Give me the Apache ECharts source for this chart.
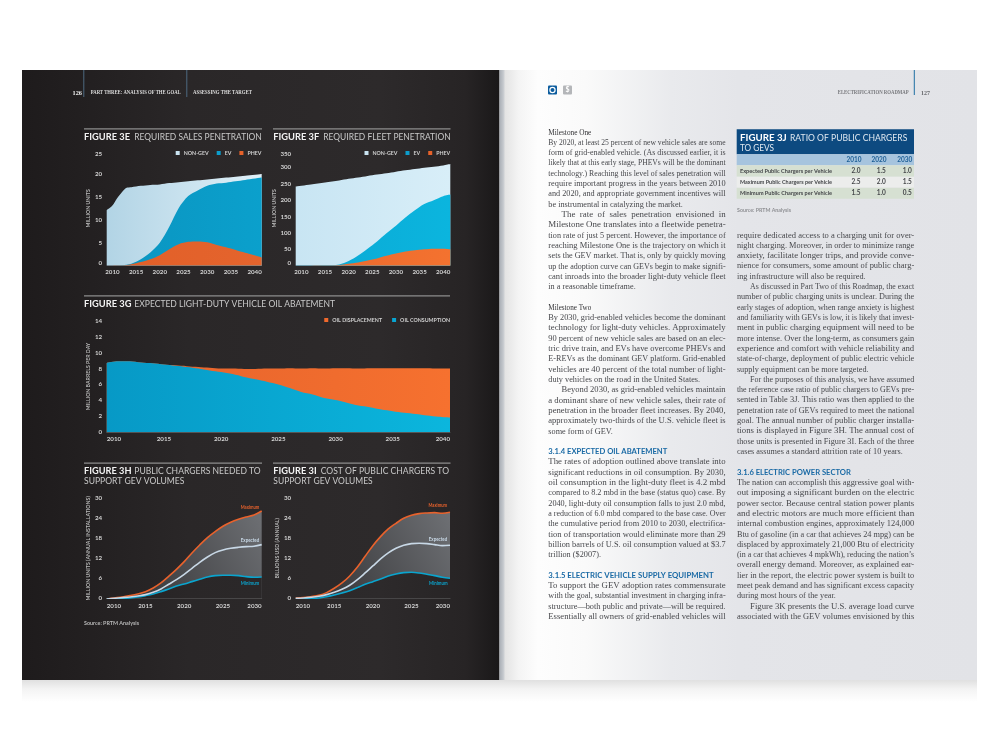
<!DOCTYPE html>
<html><head><meta charset="utf-8">
<style>html,body{margin:0;padding:0;background:#fff}#c{width:1000px;height:750px}</style>
<script src="https://cdn.jsdelivr.net/npm/echarts@6/dist/echarts.min.js"></script>
</head><body><div id="c"></div>
<script>
// ---------- DATA ----------
const yearsE = [2008.8,2010,2011,2012,2013,2014,2016,2018,2020,2022,2024,2026,2028,2030,2032,2034,2036,2038,2041.5];
const phevE = [0,0,.02,.05,.15,.3,.8,1.4,2.3,3.6,4.7,5.2,5.3,5.1,4.5,4.0,3.4,2.8,1.8];
const evE = [0,0,.03,.05,.05,.1,.6,1.5,2.7,4.9,7.9,10,11.1,12.3,13.4,14.1,15,15.9,17.4];
const nonGevE = [12.1,13.1,14.65,15.9,16.8,16.7,16,14.7,12.7,9.5,5.6,3.2,2.2,1.4,1.1,1.1,1,.9,.8];
const yearsF = [2008.8,2012,2015,2018,2020,2022,2024,2026,2028,2030,2032,2034,2036,2038,2040,2041.5];
const phevF = [0,.1,.5,2.5,6,10,16,22,30,37,43,47,50,52,52,50];
const evF = [0,.2,.5,1.5,8,21,36,52,69,85,104,122,138,148,160,167];
const nonGevF = [242,247.7,253,256,251,238,222,204,183,165,144,126,111,102,94,93];
const yearsG = [2010,2011,2012,2013,2014,2015,2016,2017,2018,2019,2020,2021,2022,2023,2024,2025,2026,2027,2028,2029,2030,2031,2032,2033,2034,2035,2036,2037,2038,2039,2040];
const oilConsumption = [8.7,8.9,8.9,8.75,8.65,8.5,8.35,8.2,8.0,7.75,7.55,7.3,6.95,6.65,6.35,6.0,5.55,5.05,4.75,4.3,4.05,3.7,3.35,3.15,2.85,2.65,2.45,2.3,2.1,1.95,1.85];
const oilDisplacement = [0,0,0,0,0,0,.05,.1,.2,.35,.45,.7,1,1.3,1.65,2,2.5,2.95,3.3,3.7,4,4.35,4.65,4.9,5.2,5.4,5.6,5.75,5.95,6.05,6.15];
const yearsH = [2010,2011,2012,2013,2014,2015,2016,2017,2018,2019,2020,2021,2022,2023,2024,2025,2026,2027,2028,2029,2030];
const maxH = [-.2,.1,.4,.8,1.3,2,3.1,4.6,6.6,8.7,11,13.6,16,18.2,20,21.6,22.8,23.7,24.4,25,26.2];
const expH = [-.2,0,.2,.4,.7,1.1,1.8,2.8,4.2,5.6,7.2,9,10.8,12.4,13.7,14.5,15,15.3,15.5,15.6,16.1];
const minH = [-.3,-.2,-.1,.1,.4,.8,1.3,2,2.8,3.7,4.3,5,5.7,6.4,6.8,6.9,6.9,6.8,6.5,6.3,6.4];
const maxI = [.1,.2,.5,.9,1.7,3,4.6,6.7,9.4,12.6,15.8,18.5,20.8,22.5,24,24.9,25.4,25.6,25.7,25.5,25.8];
const expI = [0,.1,.3,.6,1.1,1.8,2.7,3.9,5.6,7.6,9.7,11.8,13.6,15,15.9,16.4,16.5,16.4,16.1,15.8,15.9];
const minI = [-.3,-.2,-.1,.1,.5,1,1.6,2.3,3.2,4.2,5,5.8,6.7,7.3,7.7,7.8,7.6,7.2,6.8,6.3,6];
const tickYears = [2010,2015,2020,2025,2030,2035,2040];
const legendEF = ['NON-GEV','EV','PHEV'];
const legendG = ['OIL DISPLACEMENT','OIL CONSUMPTION'];
const tableYears = ['2010','2020','2030'];
const tableRows = ['Expected Public Chargers per Vehicle','Maximum Public Chargers per Vehicle','Minimum Public Chargers per Vehicle'];
const tableValues = [['2.0','1.5','1.0'],['2.5','2.0','1.5'],['1.5','1.0','0.5']];
const column1 = ['@Milestone One','By 2020, at least 25 percent of new vehicle sales are some','form of grid-enabled vehicle. (As discussed earlier, it is','likely that at this early stage, PHEVs will be the dominant','technology.) Reaching this level of sales penetration will','require important progress in the years between 2010','and 2020, and appropriate government incentives will','=be instrumental in catalyzing the market.','>The rate of sales penetration envisioned in','Milestone One translates into a fleetwide penetra-','tion rate of just 5 percent. However, the importance of','reaching Milestone One is the trajectory on which it','sets the GEV market. That is, only by quickly moving','up the adoption curve can GEVs begin to make signifi-','cant inroads into the broader light-duty vehicle fleet','=in a reasonable timeframe.','','@Milestone Two','By 2030, grid-enabled vehicles become the dominant','technology for light-duty vehicles. Approximately','90 percent of new vehicle sales are based on an elec-','tric drive train, and EVs have overcome PHEVs and','E-REVs as the dominant GEV platform. Grid-enabled','vehicles are 40 percent of the total number of light-','=duty vehicles on the road in the United States.','>Beyond 2030, as grid-enabled vehicles maintain','a dominant share of new vehicle sales, their rate of','penetration in the broader fleet increases. By 2040,','approximately two-thirds of the U.S. vehicle fleet is','=some form of GEV.','','#3.1.4 EXPECTED OIL ABATEMENT','The rates of adoption outlined above translate into','significant reductions in oil consumption. By 2030,','oil consumption in the light-duty fleet is 4.2 mbd','compared to 8.2 mbd in the base (status quo) case. By','2040, light-duty oil consumption falls to just 2.0 mbd,','a reduction of 6.0 mbd compared to the base case. Over','the cumulative period from 2010 to 2030, electrifica-','tion of transportation would eliminate more than 29','billion barrels of U.S. oil consumption valued at $3.7','=trillion ($2007).','','#3.1.5 ELECTRIC VEHICLE SUPPLY EQUIPMENT','To support the GEV adoption rates commensurate','with the goal, substantial investment in charging infra-','structure\u2014both public and private\u2014will be required.','Essentially all owners of grid-enabled vehicles will'];
const column2 = ['require dedicated access to a charging unit for over-','night charging. Moreover, in order to minimize range','anxiety, facilitate longer trips, and provide conve-','nience for consumers, some amount of public charg-','=ing infrastructure will also be required.','>As discussed in Part Two of this Roadmap, the exact','number of public charging units is unclear. During the','early stages of adoption, when range anxiety is highest','and familiarity with GEVs is low, it is likely that invest-','ment in public charging equipment will need to be','more intense. Over the long-term, as consumers gain','experience and comfort with vehicle reliability and','state-of-charge, deployment of public electric vehicle','=supply equipment can be more targeted.','>For the purposes of this analysis, we have assumed','the reference case ratio of public chargers to GEVs pre-','sented in Table 3J. This ratio was then applied to the','penetration rate of GEVs required to meet the national','goal. The annual number of public charger installa-','tions is displayed in Figure 3H. The annual cost of','those units is presented in Figure 3I. Each of the three','=cases assumes a standard attrition rate of 10 years.','','#3.1.6 ELECTRIC POWER SECTOR','The nation can accomplish this aggressive goal with-','out imposing a significant burden on the electric','power sector. Because central station power plants','and electric motors are much more efficient than','internal combustion engines, approximately 124,000','Btu of gasoline (in a car that achieves 24 mpg) can be','displaced by approximately 21,000 Btu of electricity','(in a car that achieves 4 mpkWh), reducing the nation\u2019s','overall energy demand. Moreover, as explained ear-','lier in the report, the electric power system is built to','meet peak demand and has significant excess capacity','=during most hours of the year.','>Figure 3K presents the U.S. average load curve','associated with the GEV volumes envisioned by this'];

// ---------- HELPERS ----------
const SANS='Lato', SERIF='"Liberation Serif"';
const G=echarts.graphic.LinearGradient;
const mctx=document.createElement('canvas').getContext('2d');
const fontOf=(w,s,f)=>`${w} ${s}px ${f}`;
function txt(text,x,y,o){
  o=o||{};
  const font=fontOf(o.weight||'normal',o.size||8,o.family||SANS);
  let sx=o.scale||1;
  if(o.width){mctx.font=font;sx=o.width/mctx.measureText(text).width;}
  return {type:'text',x:x,y:y,scaleX:sx,silent:true,z:o.z||50,
    style:{text:text,font:font,fill:o.color||'#ccc',textAlign:o.align||'left',textVerticalAlign:'middle',verticalAlign:'middle'}};
}
// widen a short justified line with real spaces first, so the letters are not stretched too far
function spaced(text,font,width){
  mctx.font=font;
  const words=text.split(' '), gaps=words.length-1;
  if(gaps<1) return text;
  const extra=width*.98-mctx.measureText(text).width, sp=mctx.measureText(' ').width;
  const k=Math.max(0,Math.floor(extra/(gaps*sp)));
  return k?words.join(' '.repeat(k+1)):text;
}
function rect(x,y,w,h,fill,z,r){
  return {type:'rect',silent:true,z:z==null?-10:z,shape:{x:x,y:y,width:w,height:h,r:r||0},style:{fill:fill}};
}
const pair=(xs,ys)=>xs.map((x,i)=>[x,ys[i]]);
const add=(a,b)=>a.map((v,i)=>v+b[i]);
const hgrad=(a,b)=>new G(0,0,1,0,[{offset:0,color:a},{offset:1,color:b}]);
const pageFill=new G(22,0,499,0,[{offset:0,color:'#1e1b1c'},{offset:.35,color:'#2a2728'},{offset:.75,color:'#2d2a2b'},{offset:.93,color:'#272425'},{offset:1,color:'#1a1819'}],true);

// ---------- GRAPHIC ELEMENTS ----------
const els=[];
// pages
els.push(rect(22,680,955,22,new G(0,0,0,1,[{offset:0,color:'#e0e0e0'},{offset:.4,color:'#f3f3f3'},{offset:1,color:'#ffffff'}]),-12));
els.push(rect(22,70,477.5,610,pageFill));
els.push(rect(499.5,70,477.5,610,new G(499.5,0,977,0,[{offset:0,color:'#a9aeb5'},{offset:.008,color:'#c5c9ce'},{offset:.012,color:'#e4e4e4'},{offset:.04,color:'#f4f4f4'},{offset:.08,color:'#fdfdfd'},{offset:.18,color:'#fafafa'},{offset:.36,color:'#e9eaed'},{offset:.5,color:'#e4e5e9'},{offset:1,color:'#e2e3e7'}],true)));
// running heads
els.push(rect(83.3,70,1,27,'#4d6a80',-5), rect(186.3,70,1,27,'#4d6a80',-5), rect(913.8,70,1,25,'#1f6fa3',-5));
els.push(txt('126',72.5,93,{family:SERIF,weight:'bold',size:6.5,color:'#eee',width:9.5}));
els.push(txt('PART THREE: ANALYSIS OF THE GOAL',90.7,93,{family:SERIF,weight:'bold',size:5.5,color:'#ddd',width:90}));
els.push(txt('ASSESSING THE TARGET',193,93,{family:SERIF,weight:'bold',size:5.5,color:'#ddd',width:59}));
els.push(txt('ELECTRIFICATION ROADMAP',837.7,93,{family:SERIF,weight:'bold',size:5.5,color:'#77787c',width:71}));
els.push(txt('127',921,93,{family:SERIF,weight:'bold',size:6.5,color:'#66676b',width:9}));
// icons
els.push(rect(548,85.5,9,9,'#0b5c9e',-5,1), rect(563,85.5,9,9,'#b4b6b9',-5,1));
els.push({type:'circle',silent:true,z:-4,shape:{cx:552.5,cy:90,r:2.6},style:{fill:'none',stroke:'#fff',lineWidth:1.2}});
els.push(txt('$',567.5,90,{size:7,weight:'bold',color:'#fff',align:'center'}));
// chart rules and titles
[[84,128.7,178],[273,128.7,177.5],[84,295.7,366],[84,463,178],[273,463,177.5]].forEach(r=>els.push(rect(r[0],r[1]-.5,r[2],1.2,'#8d8d8d',-5)));
const bold={weight:'bold',size:9.5,color:'#f2f2f2'}, reg={size:9.5,color:'#c9c9c9'};
function title(bt,bx,bw,rt,rx,rw,y){els.push(txt(bt,bx,y,Object.assign({width:bw},bold)),txt(rt,rx,y,Object.assign({width:rw},reg)));}
title('FIGURE 3E',84,46,'REQUIRED SALES PENETRATION',134.3,127.5,137.3);
title('FIGURE 3F',273.3,46,'REQUIRED FLEET PENETRATION',323.3,127.3,137.3);
title('FIGURE 3G',84,47.5,'EXPECTED LIGHT-DUTY VEHICLE OIL ABATEMENT',134.3,200.7,304.3);
title('FIGURE 3H',84,47.5,'PUBLIC CHARGERS NEEDED TO',134.3,126.4,471);
els.push(txt('SUPPORT GEV VOLUMES',84,480.7,Object.assign({width:100.3},reg)));
title('FIGURE 3I',273.3,43.4,'COST OF PUBLIC CHARGERS TO',320.7,128.3,471);
els.push(txt('SUPPORT GEV VOLUMES',273.3,480.7,Object.assign({width:99.4},reg)));
els.push(txt('Source: PRTM Analysis',84,623.3,{size:6,weight:'bold',color:'#b8b8b8',width:55}));
// chart line labels
[[250,507.7,'Maximum','#e8622c'],[250,540,'Expected','#c8d8e6'],[250,583,'Minimum','#0aa5cf'],[437.7,505.7,'Maximum','#e8622c'],[438,539.7,'Expected','#c8d8e6'],[438.3,583.3,'Minimum','#0aa5cf']]
  .forEach(l=>els.push(txt(l[2],l[0],l[1],{size:5.5,weight:'bold',color:l[3],align:'center',width:18.5})));
// table 3J
els.push(rect(736.7,129.3,177.3,25,'#0d4a80',-5), rect(736.7,154.3,177.3,11,'#a6c4de',-5),
  rect(736.7,165.3,177.3,11.4,'#d6e0d2',-5), rect(736.7,176.7,177.3,11,'#ecedec',-5), rect(736.7,187.7,177.3,11,'#d6e0d2',-5));
els.push(txt('FIGURE 3J',740,137.7,{weight:'bold',size:10,color:'#fff',width:46.7}));
els.push(txt('RATIO OF PUBLIC CHARGERS',790,137.7,{size:10,color:'#dfe8f0',width:117.3}));
els.push(txt('TO GEVS',740,147.7,{size:10,color:'#dfe8f0',width:34}));
const colX=[854,879,904.7], valX=[856,881.3,907.3], rowY=[171,182.3,193.2];
tableYears.forEach((t,i)=>els.push(txt(t,colX[i],159.8,{size:6.5,weight:'bold',color:'#1d5f96',align:'center'})));
tableRows.forEach((t,r)=>{
  els.push(txt(t,740,rowY[r],{size:6,weight:'bold',color:'#45474a',width:92}));
  tableValues[r].forEach((v,c)=>els.push(txt(v,valX[c],rowY[r],{size:6.5,weight:'bold',color:'#45474a',align:'center'})));
});
els.push(txt('Source: PRTM Analysis',737,210,{size:6,weight:'bold',color:'#8f9094',width:54}));
// body text
const COLW=177.3, LH=10.31, BODY=8.5, INK='#47484c';
const BFONT=fontOf('normal',BODY,SERIF);
const headingWidths={'3.1.4':119,'3.1.5':165.3,'3.1.6':114};
function column(lines,x,y0){
  lines.forEach((s,i)=>{
    if(!s) return;
    const y=y0+i*LH, k=s[0];
    if(k==='#'){const t=s.slice(1);els.push(txt(t,x,y,{weight:'bold',size:8,color:'#1a6aa5',width:headingWidths[t.slice(0,5)]}));}
    else if(k==='@'){els.push(txt(s.slice(1),x,y,{family:SERIF,size:BODY+.2,color:'#333336',width:s.length>14?50:43}));}
    else if(k==='='){els.push(txt(s.slice(1),x,y,{family:SERIF,size:BODY,color:INK,scale:.97}));}
    else if(k==='>'){const w=COLW-13.2;els.push(txt(spaced(s.slice(1),BFONT,w),x+13.2,y,{family:SERIF,size:BODY,color:INK,width:w}));}
    else els.push(txt(spaced(s,BFONT,COLW),x,y,{family:SERIF,size:BODY,color:INK,width:COLW}));
  });
}
column(column1,548.3,132.3);
column(column2,736.9,235.3);

// ---------- AXES ----------
const grids=[
 {left:106.7,top:151,width:155,height:114.7},
 {left:295.7,top:151,width:154.6,height:114.7},
 {left:106.7,top:320.7,width:343.3,height:111.6},
 {left:106.7,top:498.3,width:155,height:100},
 {left:295.7,top:498.3,width:154.3,height:100}
];
const labelStyle={color:'#d2d2d2',fontSize:6.2,fontWeight:'bold',fontFamily:SANS};
function xAxisWide(gi){return {type:'value',gridIndex:gi,min:2008.8,max:2041.5,splitLine:{show:false},axisTick:{show:false},axisLine:{show:false},
  axisLabel:Object.assign({customValues:tickYears,margin:3,formatter:v=>String(v)},labelStyle)};}
function xAxisTrue(gi,max,margin){return {type:'value',gridIndex:gi,min:2010,max:max,interval:5,splitLine:{show:false},axisTick:{show:false},axisLine:{show:true,lineStyle:{color:'#6b6b6b',width:.6}},
  axisLabel:Object.assign({margin:margin,alignMinLabel:'left',alignMaxLabel:'right',formatter:v=>String(v)},labelStyle)};}
function yAxis(gi,max,iv,name,gap,extra){return {type:'value',gridIndex:gi,min:0,max:max,interval:iv,splitLine:{show:false},axisTick:{show:false},axisLine:{show:false},
  name:name,nameLocation:'middle',nameRotate:90,nameGap:gap,nameTextStyle:{color:'#b8b8b8',fontSize:5.2,fontWeight:'bold',fontFamily:SANS},
  axisLabel:Object.assign({margin:4.5},labelStyle,extra||{})};}

// ---------- SERIES ----------
function area(name,xi,xs,ys,c,a,b){return {type:'line',name:name,xAxisIndex:xi,yAxisIndex:xi,data:pair(xs,ys),smooth:.3,symbol:'none',color:c,itemStyle:{color:c},lineStyle:{width:0},areaStyle:{opacity:1,color:hgrad(a,b)},z:3};}
function bandLines(xi,xs,mx,ex,mn){return [
 {type:'line',name:'Maximum',xAxisIndex:xi,yAxisIndex:xi,data:pair(xs,mx),smooth:.35,symbol:'none',lineStyle:{width:1.6,color:'#e8622c'},itemStyle:{color:'#e8622c'},areaStyle:{opacity:1,color:new G(0,1,1,0,[{offset:0,color:'#2c2a2c'},{offset:.45,color:'#4a4b4e'},{offset:1,color:'#6e7074'}])},z:3},
 {type:'line',name:'Minimum',xAxisIndex:xi,yAxisIndex:xi,data:pair(xs,mn),smooth:.35,symbol:'none',lineStyle:{width:1.6,color:'#0aa5cf'},itemStyle:{color:'#0aa5cf'},areaStyle:{opacity:1,color:pageFill},z:4},
 {type:'line',name:'Expected',xAxisIndex:xi,yAxisIndex:xi,data:pair(xs,ex),smooth:.35,symbol:'none',lineStyle:{width:1.6,color:'#c8d8e6'},itemStyle:{color:'#c8d8e6'},z:5}
];}
const gevE=add(phevE,evE), gevF=add(phevF,evF);
const series=[
 area('NON-GEV',0,yearsE,add(gevE,nonGevE),'#c9e3f0','#b2d4e5','#e0f0f8'),
 area('EV',0,yearsE,gevE,'#0c9dcc','#0a94c0','#0ba0cc'),
 area('PHEV',0,yearsE,phevE,'#e7622a','#e25f28','#e4642d'),
 area('NON-GEV',1,yearsF,add(gevF,nonGevF),'#e0f1fa','#c8e5f3','#d8eef8'),
 area('EV',1,yearsF,gevF,'#0ab2de','#0aa8d4','#0bb5de'),
 area('PHEV',1,yearsF,phevF,'#f26c2d','#e9682e','#f4722f'),
 area('OIL DISPLACEMENT',2,yearsG,add(oilConsumption,oilDisplacement),'#f0692d','#e4622c','#f6712f'),
 area('OIL CONSUMPTION',2,yearsG,oilConsumption,'#08a5d2','#0799c6','#0bb6dd')
].concat(bandLines(3,yearsH,maxH,expH,minH),bandLines(4,yearsH,maxI,expI,minI));

const legendBase={orient:'horizontal',icon:'rect',itemWidth:4,itemHeight:4,selectedMode:false,padding:0,textStyle:{color:'#cfcfcf',fontSize:5.3,fontWeight:'bold',fontFamily:SANS,padding:[0,0,0,-1]}};
const option={
 animation:false,
 backgroundColor:'#ffffff',
 grid:grids.map(g=>Object.assign({containLabel:false},g)),
 xAxis:[xAxisWide(0),xAxisWide(1),xAxisTrue(2,2040,3.5),xAxisTrue(3,2030,5),xAxisTrue(4,2030,5)],
 yAxis:[
  yAxis(0,25,5,'MILLION UNITS',15,{verticalAlignMaxLabel:'top',verticalAlignMinLabel:'bottom'}),
  yAxis(1,350,50,'MILLION UNITS',16,{verticalAlignMaxLabel:'top',verticalAlignMinLabel:'bottom'}),
  yAxis(2,14,2,'MILLION BARRELS PER DAY',15),
  yAxis(3,30,6,'MILLION UNITS (ANNUAL INSTALLATIONS)',15),
  yAxis(4,30,6,'BILLIONS USD (ANNUAL)',16)
 ],
 legend:[
  Object.assign({},legendBase,{data:legendEF,right:738.5,top:150.5,itemGap:8}),
  Object.assign({},legendBase,{data:legendEF,right:549.7,top:150.5,itemGap:8}),
  Object.assign({},legendBase,{data:legendG,right:550,top:317.5,itemGap:10})
 ],
 graphic:{elements:els},
 series:series
};
const chart=echarts.init(document.getElementById('c'),null,{width:1000,height:750});
chart.setOption(option);
</script></body></html>
